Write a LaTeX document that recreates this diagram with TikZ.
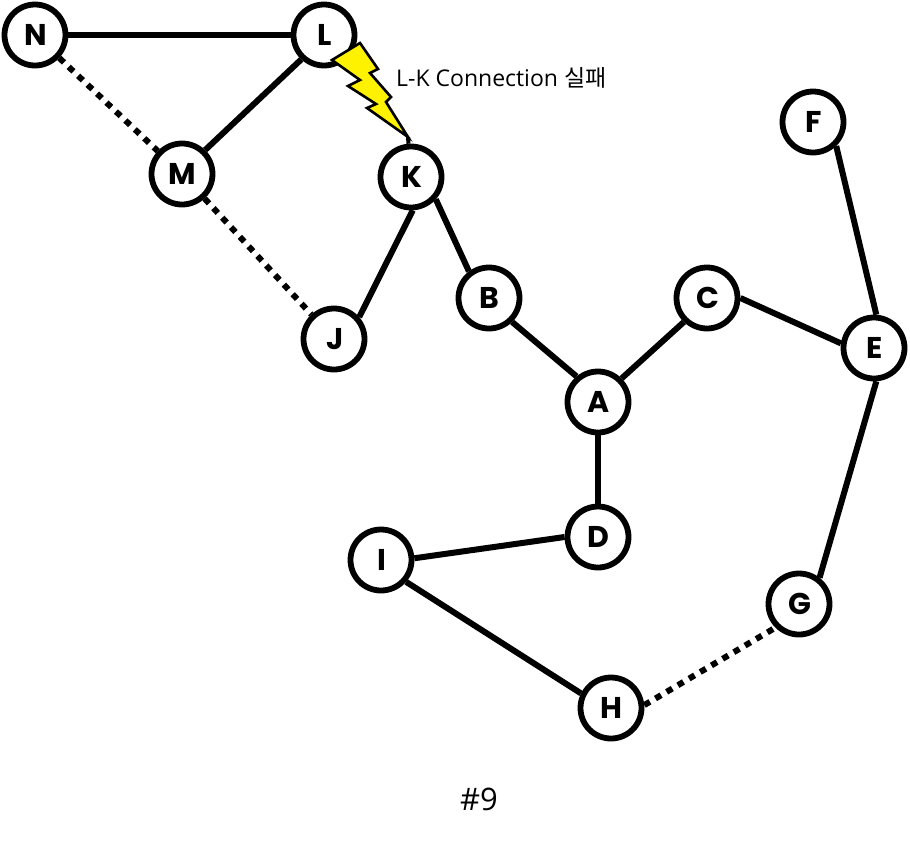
\documentclass[tikz,border=0pt]{standalone}
\usepackage{fontspec}
\setmainfont{Poppins}
\newfontfamily\labelfont{Open Sans}
\newfontfamily\cjkfont{Noto Sans CJK KR}
\newcommand{\vtext}[1]{\hspace*{1.5pt}\raisebox{-1pt}{#1}}
\tikzset{
  vertex/.style={circle,draw=black,fill=white,line width=5.8pt,minimum size=61pt,inner sep=0pt,font=\fontsize{30}{30}\selectfont\bfseries},
  link/.style={draw=black,line width=6pt},
  lost/.style={draw=black,line width=6pt,dash pattern=on 6.5pt off 6.5pt},
  bolt/.style={draw=black,fill=yellow,line width=2.6pt,line join=miter,miter limit=6},
}
\begin{document}
\begin{tikzpicture}[x=1pt,y=-1pt]
\useasboundingbox (0,0) rectangle (910,844);
\coordinate (tip) at (408,137);
\node[vertex] (N) at (35,35) {\vtext{N}};
\node[vertex] (L) at (324,35) {\vtext{L}};
\node[vertex] (M) at (182,174) {\vtext{M}};
\node[vertex] (K) at (411,177) {\vtext{K}};
\node[vertex] (J) at (334,339) {\vtext{J}};
\node[vertex] (B) at (489,298) {\vtext{B}};
\node[vertex] (A) at (598,402) {\vtext{A}};
\node[vertex] (C) at (707,298) {\vtext{C}};
\node[vertex] (E) at (874,348) {\vtext{E}};
\node[vertex] (F) at (813,122) {\vtext{F}};
\node[vertex] (D) at (598,537) {\vtext{D}};
\node[vertex] (I) at (381,560) {\vtext{I}};
\node[vertex] (G) at (799,604) {\vtext{G}};
\node[vertex] (H) at (611,708) {\vtext{H}};
\draw[lost] (N) -- (M);
\draw[lost] (M) -- (J);
\draw[lost] (H.5) -- (G.225);
\draw[link] (N) -- (L);
\draw[link] (L.227.6) -- (M.46);
\draw[link] (K.-87) -- (J.41);
\draw[link] (K.-42.6) -- (B.127.6);
\draw[link] (B.-46) -- (A.130);
\draw[link] (A.45) -- (C.226);
\draw[link] (C.0) -- (E.172.6);
\draw[link] (E.86.4) -- (F.-46);
\draw[link] (E.-86.4) -- (G.52.4);
\draw[link] (A) -- (D);
\draw[link] (D.180) -- (I.3.6);
\draw[link] (I.-41) -- (H.154);
\draw[link,line width=4pt] (tip) -- (K);
\draw[bolt] (360,43) -- (378,69) -- (370,73) -- (391,97) -- (386,102) -- (tip) -- (367,108) -- (376,104) -- (348,86) -- (360,80) -- (332,60) -- cycle;
\node[anchor=west,inner sep=0pt,font=\fontsize{23}{23}\selectfont] (lab) at (396,78) {\labelfont L-K Connection \cjkfont 실패};
\node[inner sep=0pt,font=\fontsize{31}{31}\selectfont] (cap) at (479,799) {\labelfont \#9};
\end{tikzpicture}
\end{document}
